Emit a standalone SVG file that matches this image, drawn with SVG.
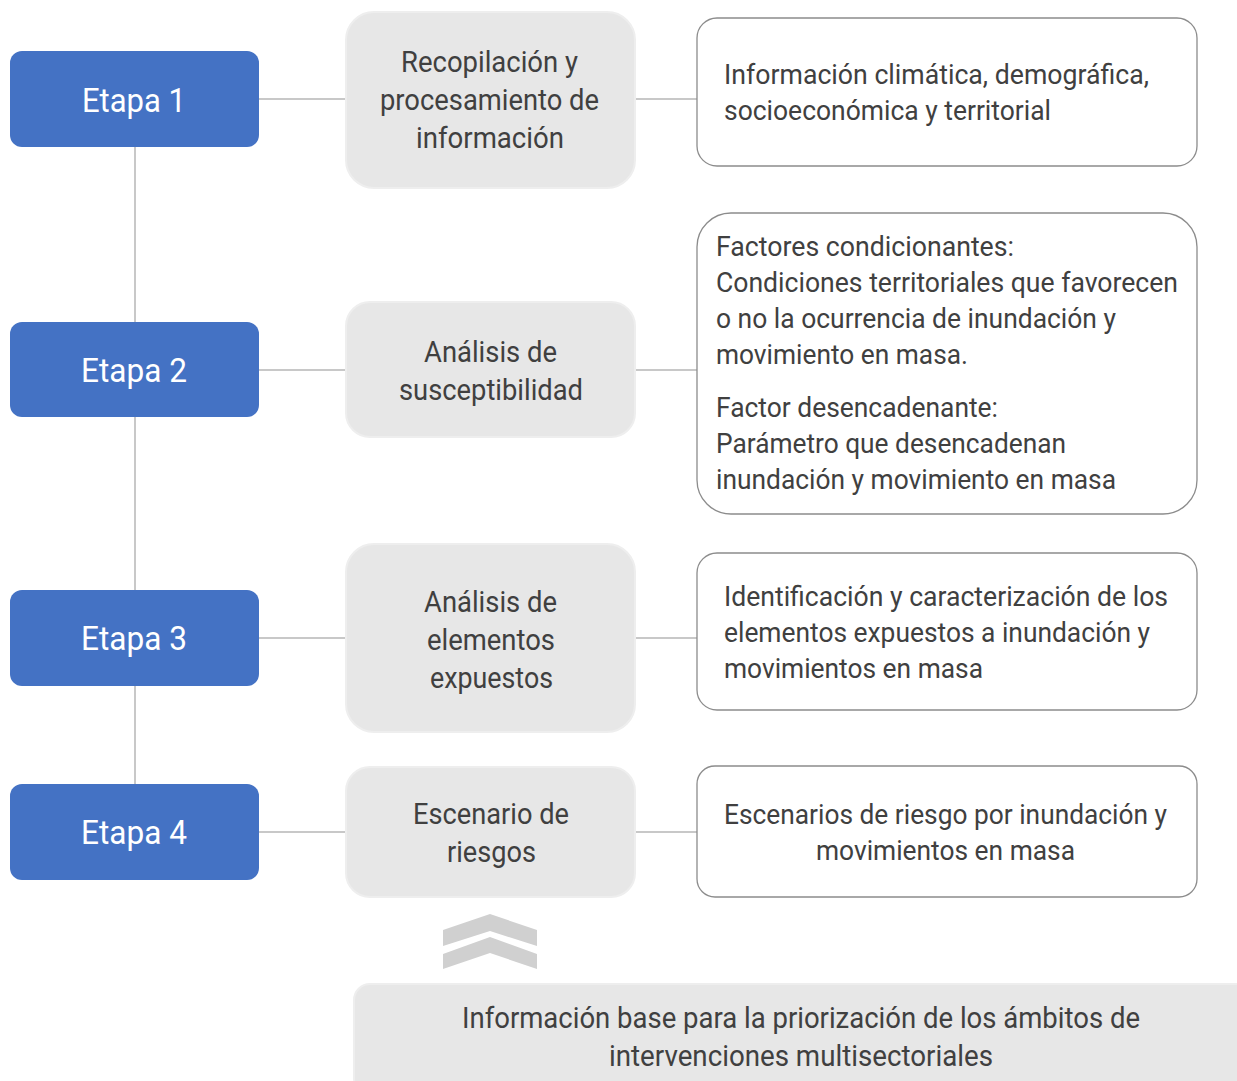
<svg xmlns="http://www.w3.org/2000/svg" width="1237" height="1081" viewBox="0 0 1237 1081">
<style>
.etapa{fill:#4472C4;}
.et{font-family:Roboto,"Liberation Sans",sans-serif;font-size:33px;fill:#ffffff;text-anchor:middle;}
.mid{fill:#e7e7e7;stroke:#eeeeee;stroke-width:2;}
.mt{font-family:Roboto,"Liberation Sans",sans-serif;font-size:30px;fill:#404040;}
.rb{fill:#ffffff;stroke:#8c8c8c;stroke-width:1.3;}
.rt{font-family:Roboto,"Liberation Sans",sans-serif;font-size:27px;fill:#404040;}
.ln{stroke:#c8c8c8;stroke-width:2;fill:none;}
</style>
<rect width="1237" height="1081" fill="#ffffff"/>
<g id="connectors">
<line class="ln" x1="135" y1="147" x2="135" y2="784"/>
<line class="ln" x1="259" y1="99" x2="346" y2="99"/>
<line class="ln" x1="635" y1="99" x2="697" y2="99"/>
<line class="ln" x1="259" y1="370" x2="346" y2="370"/>
<line class="ln" x1="635" y1="370" x2="697" y2="370"/>
<line class="ln" x1="259" y1="638" x2="346" y2="638"/>
<line class="ln" x1="635" y1="638" x2="697" y2="638"/>
<line class="ln" x1="259" y1="832" x2="346" y2="832"/>
<line class="ln" x1="635" y1="832" x2="697" y2="832"/>
</g>
<g id="etapa1"><rect class="etapa" x="10" y="51" width="249" height="96" rx="12"/><text class="et" x="134" y="112" textLength="104" lengthAdjust="spacingAndGlyphs">Etapa 1</text></g>
<g id="etapa2"><rect class="etapa" x="10" y="322" width="249" height="95" rx="12"/><text class="et" x="134" y="382" textLength="106" lengthAdjust="spacingAndGlyphs">Etapa 2</text></g>
<g id="etapa3"><rect class="etapa" x="10" y="590" width="249" height="96" rx="12"/><text class="et" x="134" y="650" textLength="106" lengthAdjust="spacingAndGlyphs">Etapa 3</text></g>
<g id="etapa4"><rect class="etapa" x="10" y="784" width="249" height="96" rx="12"/><text class="et" x="134" y="844" textLength="106" lengthAdjust="spacingAndGlyphs">Etapa 4</text></g>

<g id="mid1"><rect class="mid" x="346" y="12" width="289" height="176" rx="28"/>
<text class="mt" x="401" y="72" textLength="177" lengthAdjust="spacingAndGlyphs">Recopilación y</text>
<text class="mt" x="380" y="110" textLength="219" lengthAdjust="spacingAndGlyphs">procesamiento de</text>
<text class="mt" x="416" y="148" textLength="148" lengthAdjust="spacingAndGlyphs">información</text></g>
<g id="mid2"><rect class="mid" x="346" y="302" width="289" height="135" rx="24"/>
<text class="mt" x="424" y="362" textLength="133" lengthAdjust="spacingAndGlyphs">Análisis de</text>
<text class="mt" x="399" y="400" textLength="184" lengthAdjust="spacingAndGlyphs">susceptibilidad</text></g>
<g id="mid3"><rect class="mid" x="346" y="544" width="289" height="188" rx="28"/>
<text class="mt" x="424" y="612" textLength="133" lengthAdjust="spacingAndGlyphs">Análisis de</text>
<text class="mt" x="427" y="650" textLength="128" lengthAdjust="spacingAndGlyphs">elementos</text>
<text class="mt" x="430" y="688" textLength="123" lengthAdjust="spacingAndGlyphs">expuestos</text></g>
<g id="mid4"><rect class="mid" x="346" y="767" width="289" height="130" rx="24"/>
<text class="mt" x="413" y="824" textLength="156" lengthAdjust="spacingAndGlyphs">Escenario de</text>
<text class="mt" x="447" y="862" textLength="89" lengthAdjust="spacingAndGlyphs">riesgos</text></g>

<g id="right1"><rect class="rb" x="697" y="18" width="500" height="148" rx="20"/>
<text class="rt" x="724" y="84" textLength="425" lengthAdjust="spacingAndGlyphs">Información climática, demográfica,</text>
<text class="rt" x="724" y="120" textLength="327" lengthAdjust="spacingAndGlyphs">socioeconómica y territorial</text></g>
<g id="right2"><rect class="rb" x="697" y="213" width="500" height="301" rx="34"/>
<text class="rt" x="716" y="256" textLength="298" lengthAdjust="spacingAndGlyphs">Factores condicionantes:</text>
<text class="rt" x="716" y="292" textLength="462" lengthAdjust="spacingAndGlyphs">Condiciones territoriales que favorecen</text>
<text class="rt" x="716" y="328" textLength="400" lengthAdjust="spacingAndGlyphs">o no la ocurrencia de inundación y</text>
<text class="rt" x="716" y="364" textLength="252" lengthAdjust="spacingAndGlyphs">movimiento en masa.</text>
<text class="rt" x="716" y="417" textLength="282" lengthAdjust="spacingAndGlyphs">Factor desencadenante:</text>
<text class="rt" x="716" y="453" textLength="350" lengthAdjust="spacingAndGlyphs">Parámetro que desencadenan</text>
<text class="rt" x="716" y="489" textLength="400" lengthAdjust="spacingAndGlyphs">inundación y movimiento en masa</text></g>
<g id="right3"><rect class="rb" x="697" y="553" width="500" height="157" rx="20"/>
<text class="rt" x="724" y="606" textLength="444" lengthAdjust="spacingAndGlyphs">Identificación y caracterización de los</text>
<text class="rt" x="724" y="642" textLength="426" lengthAdjust="spacingAndGlyphs">elementos expuestos a inundación y</text>
<text class="rt" x="724" y="678" textLength="259" lengthAdjust="spacingAndGlyphs">movimientos en masa</text></g>
<g id="right4"><rect class="rb" x="697" y="766" width="500" height="131" rx="18"/>
<text class="rt" x="724" y="824" textLength="443" lengthAdjust="spacingAndGlyphs">Escenarios de riesgo por inundación y</text>
<text class="rt" x="816" y="860" textLength="259" lengthAdjust="spacingAndGlyphs">movimientos en masa</text></g>

<g id="chevron" fill="#d0d0d0">
<polygon points="443,930 490,914 537,930 537,946 490,931 443,946"/>
<polygon points="443,954 490,937 537,954 537,969 490,953 443,969"/>
</g>
<g id="bottom"><rect x="354" y="984" width="900" height="110" rx="16" fill="#e7e7e7" stroke="#eeeeee" stroke-width="2"/>
<text class="mt" x="462" y="1028" textLength="678" lengthAdjust="spacingAndGlyphs">Información base para la priorización de los ámbitos de</text>
<text class="mt" x="609" y="1066" textLength="384" lengthAdjust="spacingAndGlyphs">intervenciones multisectoriales</text></g>
</svg>
